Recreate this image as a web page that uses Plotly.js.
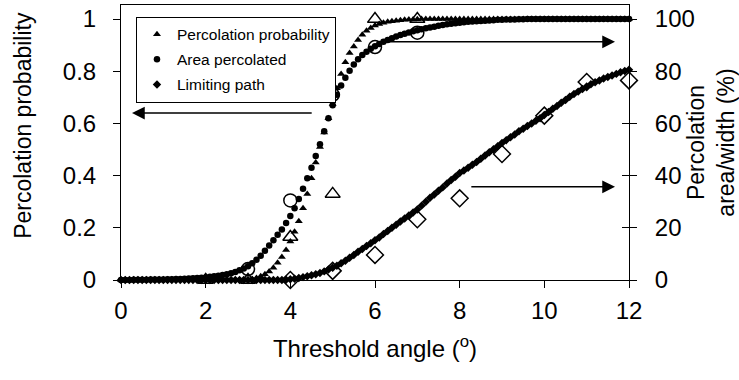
<!DOCTYPE html>
<html>
<head>
<meta charset="utf-8">
<script src="https://cdn.plot.ly/plotly-3.0.1.min.js"></script>
<style>html,body{margin:0;padding:0;background:#fff;}#chart{width:739px;height:380px;}</style>
</head>
<body>
<div id="chart"></div>
<script>
// Threshold angle grid (degrees) of the simulated curves
var thetaGrid = [
  0.0,0.1,0.2,0.3,0.4,0.5,0.6,0.7,0.8,0.9,
  1.0,1.1,1.2,1.3,1.4,1.5,1.6,1.7,1.8,1.9,
  2.0,2.1,2.2,2.3,2.4,2.5,2.6,2.7,2.8,2.9,
  3.0,3.1,3.2,3.3,3.4,3.5,3.6,3.7,3.8,3.9,
  4.0,4.1,4.2,4.3,4.4,4.5,4.6,4.7,4.8,4.9,
  5.0,5.1,5.2,5.3,5.4,5.5,5.6,5.7,5.8,5.9,
  6.0,6.1,6.2,6.3,6.4,6.5,6.6,6.7,6.8,6.9,
  7.0,7.1,7.2,7.3,7.4,7.5,7.6,7.7,7.8,7.9,
  8.0,8.1,8.2,8.3,8.4,8.5,8.6,8.7,8.8,8.9,
  9.0,9.1,9.2,9.3,9.4,9.5,9.6,9.7,9.8,9.9,
  10.0,10.1,10.2,10.3,10.4,10.5,10.6,10.7,10.8,10.9,
  11.0,11.1,11.2,11.3,11.4,11.5,11.6,11.7,11.8,11.9,
  12.0
];
// Percolation probability (left axis, 0-1)
var percProb = [
  0,0,0,0,0,0,0,0,0,0,
  0,0,0,0,0,0,0,0,0,0,
  0,0,0,0,0,0,0,0,0,0,
  0,0.003,0.008,0.014,0.022,0.033,0.047,0.066,0.088,0.115,
  0.148,0.185,0.225,0.275,0.33,0.39,0.45,0.51,0.565,0.62,
  0.675,0.735,0.79,0.835,0.87,0.895,0.92,0.94,0.955,0.966,
  0.975,0.981,0.986,0.99,0.992,0.994,0.996,0.997,0.998,0.998,
  0.999,1,1,1,1,1,1,1,1,1,
  1,1,1,1,1,1,1,1,1,1,
  1,1,1,1,1,1,1,1,1,1,
  1,1,1,1,1,1,1,1,1,1,
  1,1,1,1,1,1,1,1,1,1,
  1
];
// Area percolated (right axis, %)
var areaPct = [
  0,0,0,0.1,0.1,0.1,0.1,0.2,0.2,0.2,
  0.2,0.3,0.3,0.4,0.4,0.5,0.6,0.7,0.8,0.9,
  1.0,1.2,1.4,1.6,1.9,2.2,2.6,3.1,3.7,4.4,
  5.3,6.4,7.8,9.3,11.2,13.2,15.2,17.3,19.4,21.8,
  24.5,27.5,31.0,35.0,39.0,43.0,47.5,52.0,57.0,62.0,
  67.0,71.0,74.5,77.5,80.2,82.6,84.6,86.2,87.5,88.6,
  89.6,90.5,91.3,92.0,92.7,93.3,93.9,94.4,94.9,95.3,
  95.7,96.1,96.5,96.8,97.1,97.4,97.7,98.0,98.2,98.4,
  98.6,98.8,99.0,99.1,99.2,99.3,99.4,99.5,99.6,99.7,
  99.7,99.8,99.8,99.8,99.9,99.9,100,100,100,100,
  100,100,100,100,100,100,100,100,100,100,
  100,100,100,100,100,100,100,100,100,100,
  100
];
// Limiting path (right axis, % width)
var pathPct = [
  0,0,0,0,0,0,0,0,0,0,
  0,0,0,0,0,0,0,0,0,0,
  0,0,0,0,0,0,0,0,0,0,
  0,0,0,0,0,0,0,0,0,0.1,
  0.3,0.5,0.8,1.1,1.4,1.8,2.2,2.7,3.3,4.0,
  4.7,5.5,6.4,7.4,8.5,9.6,10.8,11.9,13.0,14.1,
  15.2,16.3,17.6,18.8,20.0,21.2,22.4,23.6,24.7,25.9,
  27.0,28.5,30.0,31.5,32.8,34.2,35.5,37.0,38.3,39.6,
  41.0,42.0,43.0,44.2,45.2,46.5,47.7,49.0,50.1,51.3,
  52.5,53.6,54.7,55.8,57.0,58.0,59.0,60.0,61.0,62.0,
  63.2,64.4,65.6,66.7,67.9,69.0,70.2,71.3,72.2,73.2,
  74.2,75.0,75.8,76.5,77.2,77.8,78.4,79.0,79.6,80.1,
  80.6
];
// Measured points (open markers)
var probTheta = [2, 3, 4, 5, 6, 7];
var probMeasured = [0, 0, 0.165, 0.33, 1.0, 1.0];
var areaTheta = [3, 4, 5, 6, 7];
var areaMeasured = [4.2, 30.5, 71, 89.3, 94.8];
var pathTheta = [4, 5, 6, 7, 8, 9, 10, 11, 12];
var pathMeasured = [0, 3.5, 9.6, 23.3, 31.3, 48.3, 63, 75.9, 76.5];

var seriesNames = ['Percolation probability', 'Area percolated', 'Limiting path'];
var xTicks = [0, 2, 4, 6, 8, 10, 12];

var FONT = 'Liberation Sans, Arial, sans-serif';

var traces = [
  {x: probTheta, y: probMeasured, yaxis: 'y', mode: 'markers', showlegend: false, cliponaxis: false,
   marker: {symbol: 'triangle-up-open', size: 13, color: 'black', line: {width: 1.5, color: 'black'}}},
  {x: areaTheta, y: areaMeasured, yaxis: 'y2', mode: 'markers', showlegend: false, cliponaxis: false,
   marker: {symbol: 'circle-open', size: 13, color: 'black', line: {width: 1.5, color: 'black'}}},
  {x: pathTheta, y: pathMeasured, yaxis: 'y2', mode: 'markers', showlegend: false, cliponaxis: false,
   marker: {symbol: 'diamond-open', size: 13, color: 'black', line: {width: 1.5, color: 'black'}}},
  {x: thetaGrid, y: percProb, yaxis: 'y', mode: 'markers', name: seriesNames[0], legendgroup: 'g1', cliponaxis: false,
   marker: {symbol: 'triangle-up', size: 7, color: 'black'}},
  {x: thetaGrid, y: areaPct, yaxis: 'y2', mode: 'markers', name: seriesNames[1], legendgroup: 'g2', cliponaxis: false,
   marker: {symbol: 'circle', size: 6.5, color: 'black'}},
  {x: thetaGrid, y: pathPct, yaxis: 'y2', mode: 'markers', name: seriesNames[2], legendgroup: 'g3', cliponaxis: false,
   marker: {symbol: 'diamond', size: 6.5, color: 'black'}}
];

var arrowStyle = {showarrow: true, arrowhead: 2, arrowsize: 1.7, arrowwidth: 1.5, arrowcolor: 'black',
  text: '', xref: 'x', yref: 'y', axref: 'x', ayref: 'y'};

var layout = {
  width: 739, height: 380,
  margin: {l: 121, r: 110, t: 5, b: 100, pad: 0},
  paper_bgcolor: 'white', plot_bgcolor: 'white',
  font: {family: FONT, size: 23, color: 'black'},
  showlegend: true,
  legend: {x: 0.0295, y: 0.958, xanchor: 'left', yanchor: 'top', bgcolor: 'white',
    bordercolor: 'black', borderwidth: 1, font: {family: FONT, size: 15.5, color: 'black'},
    traceorder: 'grouped', tracegroupgap: 2, itemwidth: 30},
  xaxis: {range: [0, 12], tickvals: xTicks, ticktext: xTicks.map(String), showgrid: false, zeroline: false,
    showline: true, linecolor: 'black', linewidth: 1, mirror: true,
    ticks: 'outside', ticklen: 7, tickcolor: 'black', ticklabelstandoff: 2,
    tickfont: {size: 24},
    title: {text: 'Threshold angle (<sup>o</sup>)', font: {size: 24}, standoff: 17}},
  yaxis: {range: [0, 1.054], dtick: 0.2, tick0: 0, showgrid: false, zeroline: false,
    showline: true, linecolor: 'black', linewidth: 1, mirror: 'ticks',
    ticks: 'outside', ticklen: 7, tickcolor: 'black', ticklabelstandoff: 12,
    tickfont: {size: 24}},
  yaxis2: {range: [0, 105.4], dtick: 20, tick0: 0, overlaying: 'y', side: 'right', showgrid: false, zeroline: false,
    showline: true, linecolor: 'black', linewidth: 1,
    ticks: 'inside', ticklen: 7, tickcolor: 'black', ticklabelstandoff: 20,
    tickfont: {size: 24},
    title: {text: 'Percolation<br>area/width (%)', font: {size: 23}, standoff: 0}},
  annotations: [
    {text: 'Percolation probability', xref: 'paper', yref: 'paper', x: -0.193, y: 0.564,
     xanchor: 'center', yanchor: 'middle', textangle: -90, showarrow: false, font: {size: 23}},
    Object.assign({x: 0.26, y: 0.64, ax: 4.54, ay: 0.64}, arrowStyle),
    Object.assign({x: 11.67, y: 0.913, ax: 6.25, ay: 0.913}, arrowStyle),
    Object.assign({x: 11.67, y: 0.357, ax: 8.24, ay: 0.357}, arrowStyle)
  ]
};

Plotly.newPlot('chart', traces, layout, {displayModeBar: false, staticPlot: true});
</script>
</body>
</html>
